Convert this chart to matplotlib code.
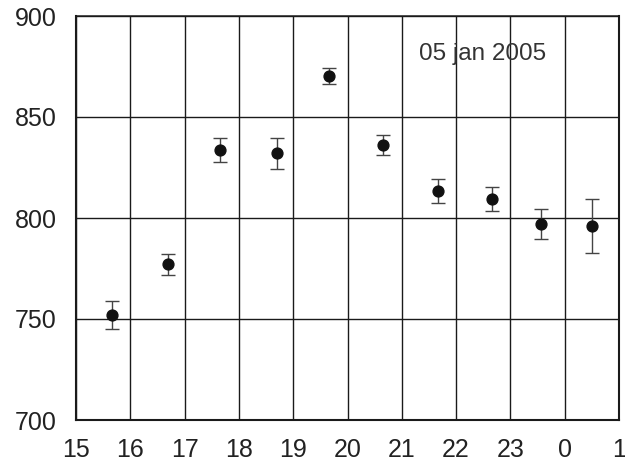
import matplotlib
matplotlib.use("Agg")
import matplotlib.pyplot as plt

hours = [15.66, 16.69, 17.66, 18.70, 19.66, 20.66, 21.66, 22.66, 23.56, 24.51]
values = [752, 777, 833.5, 832, 870.5, 836, 813.5, 809.5, 797, 796]
errors = [7, 5, 6, 7.5, 4, 5, 6, 6, 7.5, 13.5]
x_ticks = list(range(15, 26))
x_labels = ['15', '16', '17', '18', '19', '20', '21', '22', '23', '0', '1']
y_ticks = [700, 750, 800, 850, 900]
date_label = "05 jan 2005"

plt.rcParams['font.family'] = ['Liberation Sans', 'DejaVu Sans']

fig = plt.figure(figsize=(6.25, 4.63), dpi=100)
ax = fig.add_axes([76/625, 1-420/463, (619-76)/625, (420-16)/463])

ax.set_xlim(15, 25)
ax.set_ylim(700, 900)
ax.set_xticks(x_ticks)
ax.set_xticklabels(x_labels)
ax.set_yticks(y_ticks)
ax.tick_params(length=0, labelsize=18, labelcolor='#222222')
ax.tick_params(axis='y', pad=14)
ax.tick_params(axis='x', pad=13)

ax.grid(True, color='#1a1a1a', linewidth=1.0)
ax.set_axisbelow(True)
for side, sp in ax.spines.items():
    sp.set_color('#1a1a1a')
    sp.set_linewidth(1.5 if side != 'top' else 1.1)

ax.errorbar(hours, values, yerr=errors, fmt='o', color='#111111',
            markersize=7.8, ecolor='#444444', elinewidth=1.0,
            capsize=5, capthick=1.0, zorder=3)

ax.text(21.32, 881, date_label, ha='left', va='center', fontsize=17.5,
        color='#333333')

fig.savefig('out.png', dpi=100)
